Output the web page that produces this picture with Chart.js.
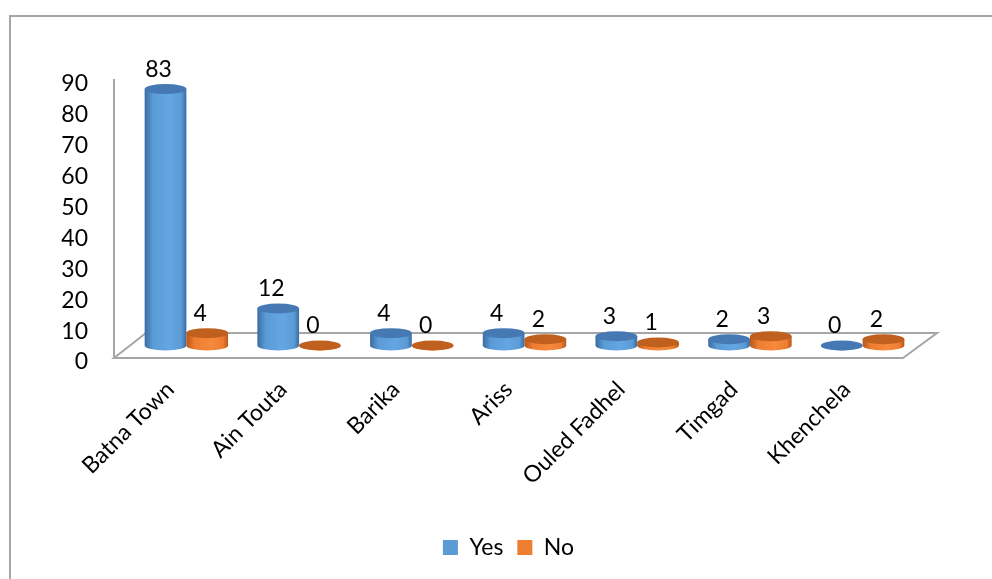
<!DOCTYPE html>
<html lang="en">
  <head>
    <meta charset="UTF-8" />
    <title>Yes / No by town</title>
    <script src="https://cdn.jsdelivr.net/npm/chart.js@4"></script>
    <style>
      html, body { margin: 0; padding: 0; background: #fff; }
    </style>
  </head>
  <body>
    <canvas id="myChart" width="992" height="579"></canvas>
    <script>
      // data
      const towns = ['Batna Town', 'Ain Touta', 'Barika', 'Ariss', 'Ouled Fadhel', 'Timgad', 'Khenchela'];
      const yesValues = [83, 12, 4, 4, 3, 2, 0];
      const noValues = [4, 0, 0, 2, 1, 3, 2];
      const yTicks = [0, 10, 20, 30, 40, 50, 60, 70, 80, 90];

      const FONT = 'Lato, "Open Sans", sans-serif';
      const DEPTH_X = 32, DEPTH_Y = -25;   // floor depth offset

      // colours: base, top, dark edge, light centre
      const palette = [
        { base: '#5b9bd5', top: '#4679b4', dark: '#3a6ba3', light: '#64a6e3' },
        { base: '#ed7d31', top: '#c0601f', dark: '#b8561a', light: '#f6893c' }
      ];

      const frame = {
        id: 'frame',
        beforeDraw(chart) {
          const c = chart.ctx;
          c.save();
          c.strokeStyle = '#a6a6a6';
          c.lineWidth = 2;
          c.strokeRect(10, 16, 1100, 700);
          c.restore();
        }
      };

      const cylinders = {
        id: 'cylinders',
        beforeDatasetsDraw(chart) {
          const c = chart.ctx;
          const a = chart.chartArea;
          // floor
          c.save();
          c.strokeStyle = '#a6a6a6';
          c.lineWidth = 2;
          c.beginPath();
          c.moveTo(a.left, a.bottom);
          c.lineTo(a.left + DEPTH_X, a.bottom + DEPTH_Y);
          c.lineTo(a.right + DEPTH_X + 2, a.bottom + DEPTH_Y);
          c.lineTo(a.right, a.bottom);
          c.closePath();
          c.stroke();

          const labels = [];
          const n = chart.data.labels.length;
          for (let i = 0; i < n; i++) {
            chart.data.datasets.forEach((ds, d) => {
              const bar = chart.getDatasetMeta(d).data[i];
              const col = palette[d];
              const w = bar.width;
              const rx = w / 2, ry = 5;
              const cx = bar.x + DEPTH_X / 2;
              const top = bar.y + DEPTH_Y / 2;
              const bot = bar.base + DEPTH_Y / 2;
              const g = c.createLinearGradient(cx - rx, 0, cx + rx, 0);
              g.addColorStop(0, col.dark);
              g.addColorStop(0.2, col.base);
              g.addColorStop(0.6, col.light);
              g.addColorStop(0.88, col.base);
              g.addColorStop(1, col.dark);
              c.beginPath();
              c.moveTo(cx - rx, top);
              c.lineTo(cx - rx, bot);
              c.ellipse(cx, bot, rx, ry, 0, Math.PI, 0, true);
              c.lineTo(cx + rx, top);
              c.closePath();
              c.fillStyle = g;
              c.fill();
              c.beginPath();
              c.ellipse(cx, top, rx, ry, 0, 0, Math.PI * 2);
              c.fillStyle = col.top;
              c.fill();
              labels.push({ x: cx - 7, y: top - 20, t: String(ds.data[i]) });
            });
          }
          c.fillStyle = '#000';
          c.font = '23px ' + FONT;
          c.textAlign = 'center';
          c.textBaseline = 'middle';
          labels.forEach(l => c.fillText(l.t, l.x, l.y));
          c.restore();
          return false;
        }
      };

      const ctx = document.getElementById('myChart').getContext('2d');
      const myChart = new Chart(ctx, {
        type: 'bar',
        data: {
          labels: towns,
          datasets: [
            { label: 'Yes', data: yesValues, backgroundColor: palette[0].base },
            { label: 'No', data: noValues, backgroundColor: palette[1].base }
          ]
        },
        options: {
          responsive: false,
          animation: false,
          devicePixelRatio: 1,
          categoryPercentage: 0.74,
          barPercentage: 1,
          layout: { padding: { left: 0, right: 89, top: 80, bottom: 10 } },
          plugins: {
            tooltip: { enabled: false },
            legend: {
              position: 'bottom',
              fullSize: false,
              labels: {
                boxWidth: 15,
                boxHeight: 15,
                padding: 14,
                color: '#000',
                font: { family: FONT, size: 23 }
              }
            }
          },
          scales: {
            y: {
              min: 0,
              max: 90,
              afterBuildTicks(scale) { scale.ticks = yTicks.map(v => ({ value: v })); },
              afterFit(scale) { scale.width = 114; },
              grid: { display: false, drawTicks: false },
              border: { display: true, color: '#a6a6a6', width: 2 },
              ticks: { padding: 26, labelOffset: 4, color: '#000', font: { family: FONT, size: 23 } }
            },
            x: {
              afterFit(scale) { scale.height = 164; },
              grid: { display: false, drawTicks: false },
              border: { display: false },
              ticks: {
                minRotation: 45,
                maxRotation: 45,
                padding: 18,
                labelOffset: 0,
                color: '#000',
                font: { family: FONT, size: 23 }
              }
            }
          }
        },
        plugins: [frame, cylinders]
      });
    </script>
  </body>
</html>
